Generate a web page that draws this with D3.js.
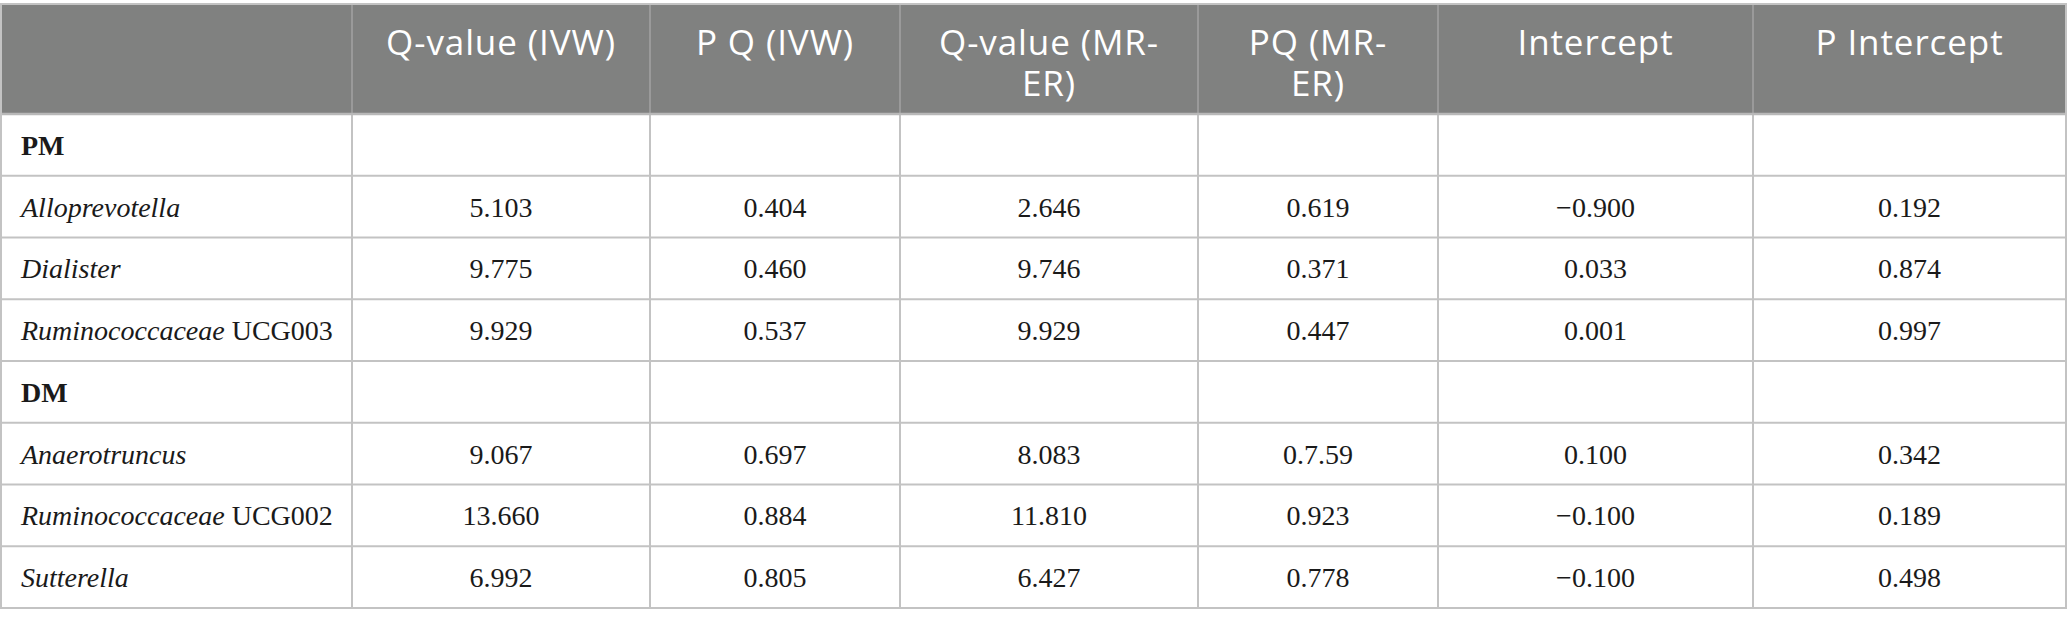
<!DOCTYPE html>
<html><head><meta charset="utf-8">
<script src="https://cdn.jsdelivr.net/npm/d3@7"></script>
<style>html,body{margin:0;padding:0;background:#fff;}svg{display:block;}</style>
</head><body>
<svg id="chart" width="2068" height="626"></svg>
<script>
// ---- data ----
const headerLines = [[""], ["Q-value (IVW)"], ["P Q (IVW)"], ["Q-value (MR-", "ER)"], ["PQ (MR-", "ER)"], ["Intercept"], ["P Intercept"]];
const rowLabelItalic = ["", "Alloprevotella", "Dialister", "Ruminococcaceae", "", "Anaerotruncus", "Ruminococcaceae", "Sutterella"];
const rowLabelPlain  = ["PM", "", "", " UCG003", "DM", "", " UCG002", ""];
const isGroupRow     = [true, false, false, false, true, false, false, false];
const qIVW      = ["", "5.103", "9.775", "9.929", "", "9.067", "13.660", "6.992"];
const pQIVW     = ["", "0.404", "0.460", "0.537", "", "0.697", "0.884", "0.805"];
const qMRER     = ["", "2.646", "9.746", "9.929", "", "8.083", "11.810", "6.427"];
const pQMRER    = ["", "0.619", "0.371", "0.447", "", "0.7.59", "0.923", "0.778"];
const intercept = ["", "\u22120.900", "0.033", "0.001", "", "0.100", "\u22120.100", "\u22120.100"];
const pIntercept= ["", "0.192", "0.874", "0.997", "", "0.342", "0.189", "0.498"];
const valueCols = [qIVW, pQIVW, qMRER, pQMRER, intercept, pIntercept];

// ---- layout ----
const colEdges = [1, 352, 650, 900, 1198, 1438, 1753, 2066];
const tableTop = 4, headerBottom = 114, tableBottom = 608;
const rowIdx = d3.range(rowLabelItalic.length);
const y = d3.scaleBand().domain(rowIdx).range([headerBottom, tableBottom]).padding(0);
const colIdx = d3.range(colEdges.length - 1);
const x0 = i => colEdges[i], xc = i => (colEdges[i] + colEdges[i + 1]) / 2;

const svg = d3.select("#chart");
const serif = "'Liberation Serif', 'Times New Roman', serif";
const sans = "'Open Sans', 'Noto Sans', sans-serif";
const gridColor = "#c3c3c3";

// header background
svg.append("rect").attr("x", colEdges[0]).attr("y", tableTop)
  .attr("width", colEdges[colEdges.length - 1] - colEdges[0]).attr("height", headerBottom - tableTop)
  .attr("fill", "#808180");

// header column separators
svg.append("g").selectAll("line").data(colIdx.slice(1)).join("line")
  .attr("x1", i => x0(i)).attr("x2", i => x0(i))
  .attr("y1", tableTop).attr("y2", headerBottom)
  .attr("stroke", "#a3a3a3").attr("stroke-width", 1.5);

// header text (one text element per line)
const hdrItems = [];
colIdx.forEach(i => headerLines[i].forEach((t, k) => { if (t) hdrItems.push({i, k, t}); }));
svg.append("g").selectAll("text").data(hdrItems).join("text")
  .attr("x", d => xc(d.i)).attr("y", d => 55 + d.k * 41)
  .attr("text-anchor", "middle")
  .attr("font-family", sans).attr("font-size", 35).attr("letter-spacing", 0.9)
  .attr("fill", "#ffffff")
  .text(d => d.t);

// body grid: horizontal lines
svg.append("g").selectAll("line").data(rowIdx.slice(1)).join("line")
  .attr("x1", colEdges[0]).attr("x2", colEdges[colEdges.length - 1])
  .attr("y1", i => y(i)).attr("y2", i => y(i))
  .attr("stroke", gridColor).attr("stroke-width", 2);
// vertical lines in body
svg.append("g").selectAll("line").data(colIdx.slice(1)).join("line")
  .attr("x1", i => x0(i)).attr("x2", i => x0(i))
  .attr("y1", headerBottom).attr("y2", tableBottom)
  .attr("stroke", gridColor).attr("stroke-width", 2);
// header bottom line
svg.append("line").attr("x1", colEdges[0]).attr("x2", colEdges[colEdges.length - 1])
  .attr("y1", headerBottom).attr("y2", headerBottom)
  .attr("stroke", "#b8b8b8").attr("stroke-width", 2.5);
// outer border
svg.append("rect").attr("x", colEdges[0]).attr("y", tableTop)
  .attr("width", colEdges[colEdges.length - 1] - colEdges[0]).attr("height", tableBottom - tableTop)
  .attr("fill", "none").attr("stroke", gridColor).attr("stroke-width", 2);

// row labels
const labels = svg.append("g").selectAll("text").data(rowIdx).join("text")
  .attr("x", 21).attr("y", i => y(i) + y.bandwidth() / 2 + 10)
  .attr("font-family", serif).attr("font-size", 28).attr("fill", "#1a1a1a");
labels.filter(i => rowLabelItalic[i]).append("tspan").attr("font-style", "italic").text(i => rowLabelItalic[i]);
labels.filter(i => rowLabelPlain[i]).append("tspan")
  .attr("font-weight", i => isGroupRow[i] ? "bold" : "normal")
  .style("white-space", "pre").attr("xml:space", "preserve")
  .text(i => rowLabelPlain[i]);

// values
valueCols.forEach((vals, c) => {
  svg.append("g").selectAll("text").data(rowIdx.filter(i => vals[i] !== "")).join("text")
    .attr("x", xc(c + 1)).attr("y", i => y(i) + y.bandwidth() / 2 + 10)
    .attr("text-anchor", "middle")
    .attr("font-family", serif).attr("font-size", 28).attr("fill", "#1a1a1a")
    .text(i => vals[i]);
});
</script>
</body></html>
